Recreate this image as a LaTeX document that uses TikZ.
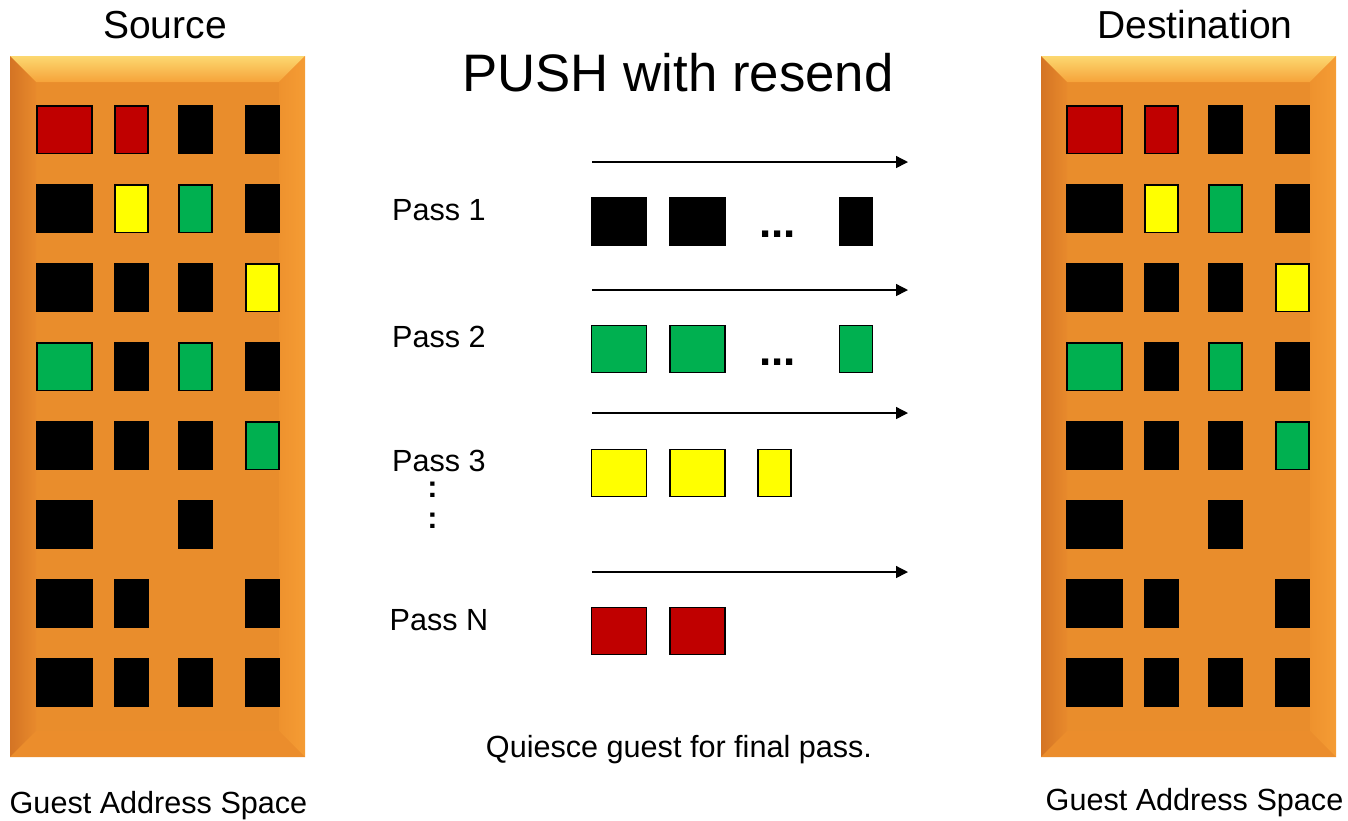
\documentclass[tikz,border=0pt]{standalone}
\usepackage{fontspec}
\setmainfont{Liberation Sans}
\usetikzlibrary{arrows.meta}
\definecolor{pagered}{RGB}{192,0,0}
\definecolor{pageyellow}{RGB}{255,255,0}
\definecolor{pagegreen}{RGB}{0,176,80}
\definecolor{panelface}{RGB}{233,141,44}
\definecolor{bevtopA}{RGB}{252,216,112}
\definecolor{bevtopB}{RGB}{246,163,58}
\definecolor{bevleftA}{RGB}{212,116,36}
\definecolor{bevleftB}{RGB}{232,138,44}
\definecolor{bevrightA}{RGB}{238,146,46}
\definecolor{bevrightB}{RGB}{245,156,52}
\definecolor{bevbot}{RGB}{235,141,44}
\newcommand{\txtsize}[1]{\fontsize{#1}{#1}\selectfont}

\begin{document}
\begin{tikzpicture}[x=0.01cm, y=-0.01cm]
  \tikzset{
    page/.style={
      draw=black,
      line width=0.3pt,
      minimum height=0.47cm,
      inner sep=0pt
    },
    pagewide/.style={
      page,
      minimum width=0.55cm
    },
    pagenarrow/.style={
      page,
      minimum width=0.33cm
    },
    caption/.style={
      anchor=base,
      inner sep=0pt,
      font=\txtsize{8.7pt}
    },
    flow/.style={
      draw=black,
      line width=0.4pt,
      -{Triangle[length=0.12cm, width=0.12cm]}
    }
  }
  \useasboundingbox (0,0) rectangle (1348,820);

  % Bevelled panels
  \foreach \px in {10,1041}{
    \pgfmathsetmacro\qx{\px+295}
    \fill[panelface] (\px,56) rectangle (\qx,757);
    \shade[top color=bevtopA, bottom color=bevtopB]
      (\px,56) -- (\qx,56) -- (\qx-26,82) -- (\px+26,82) -- cycle;
    \shade[left color=bevleftA, right color=bevleftB]
      (\px,56) -- (\px+26,82) -- (\px+26,731) -- (\px,757) -- cycle;
    \shade[left color=bevrightA, right color=bevrightB]
      (\qx,56) -- (\qx,757) -- (\qx-26,731) -- (\qx-26,82) -- cycle;
    \fill[bevbot]
      (\px,757) -- (\px+26,731) -- (\qx-26,731) -- (\qx,757) -- cycle;
  }

  % Guest pages
  \foreach \side/\dx in {src/0, dst/1030}{
    \foreach \c/\r/\clr in {1/1/pagered, 2/1/pagered, 3/1/black, 4/1/black,
                            1/2/black, 2/2/pageyellow, 3/2/pagegreen, 4/2/black,
                            1/3/black, 2/3/black, 3/3/black, 4/3/pageyellow,
                            1/4/pagegreen, 2/4/black, 3/4/pagegreen, 4/4/black,
                            1/5/black, 2/5/black, 3/5/black, 4/5/pagegreen,
                            1/6/black, 3/6/black,
                            1/7/black, 2/7/black, 4/7/black,
                            1/8/black, 2/8/black, 3/8/black, 4/8/black}{
      \pgfmathsetmacro\cx{\dx+{64.5,131.5,195.5,262.5}[\c-1]}
      \pgfmathsetmacro\cy{129.5+79*(\r-1)}
      \ifnum\c=1 \def\cw{pagewide}\else \def\cw{pagenarrow}\fi
      \node[\cw, fill=\clr] (\side-\c-\r) at (\cx,\cy) {};
    }
  }

  % Titles
  \node[anchor=base, inner sep=0pt, font=\txtsize{15pt}] (title) at (678,91.7) {PUSH with resend};
  \node[anchor=base, inner sep=0pt, font=\txtsize{11.1pt}] (srclabel) at (165,38) {Source};
  \node[anchor=base, inner sep=0pt, font=\txtsize{11.1pt}] (dstlabel) at (1195,38) {Destination};
  \node[caption] (srcspace) at (158.5,813) {Guest Address Space};
  \node[caption] (dstspace) at (1194.5,810) {Guest Address Space};
  \node[caption] (quiesce) at (679,757) {Quiesce guest for final pass.};

  % Passes
  \node[caption] (pass1) at (439,220) {Pass 1};
  \node[caption] (pass2) at (439,347) {Pass 2};
  \node[caption] (pass3) at (439,471) {Pass 3};
  \node[caption] (passN) at (439,630) {Pass N};
  \node[caption, font=\txtsize{8.7pt}\bfseries] (vdots1) at (432.5,497) {:};
  \node[caption, font=\txtsize{8.7pt}\bfseries] (vdots2) at (432.5,528) {:};

  % Transfer arrows
  \foreach \n/\ay in {1/162, 2/290, 3/413, 4/572}{
    \coordinate (a\n s) at (592,\ay);
    \coordinate (a\n e) at (908,\ay);
    \draw[flow] (a\n s) -- (a\n e);
  }

  % Pages sent per pass
  \node[pagewide, fill=black] (p1a) at (619,221.5) {};
  \node[pagewide, fill=black] (p1b) at (697.5,221.5) {};
  \node[caption, font=\txtsize{12.5pt}\bfseries] (p1dots) at (777.5,237.5) {...};
  \node[pagenarrow, fill=black] (p1c) at (856,221.5) {};

  \node[pagewide, fill=pagegreen] (p2a) at (619,349) {};
  \node[pagewide, fill=pagegreen] (p2b) at (697.5,349) {};
  \node[caption, font=\txtsize{12.5pt}\bfseries] (p2dots) at (777.5,365) {...};
  \node[pagenarrow, fill=pagegreen] (p2c) at (856,349) {};

  \node[pagewide, fill=pageyellow] (p3a) at (619,473) {};
  \node[pagewide, fill=pageyellow] (p3b) at (697.5,473) {};
  \node[pagenarrow, fill=pageyellow] (p3c) at (774.5,473) {};

  \node[pagewide, fill=pagered] (pNa) at (619,631) {};
  \node[pagewide, fill=pagered] (pNb) at (697.5,631) {};
\end{tikzpicture}
\end{document}
